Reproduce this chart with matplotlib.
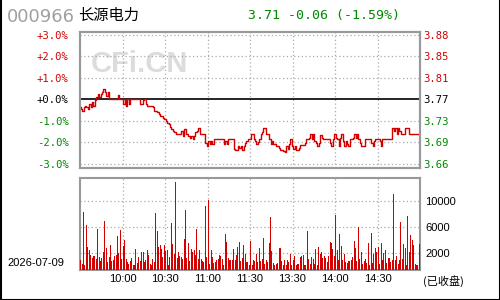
import matplotlib
matplotlib.use("Agg")
import matplotlib.pyplot as plt
from matplotlib.lines import Line2D

plt.rcParams['font.family'] = ['Liberation Sans', 'Noto Sans CJK SC', 'DejaVu Sans']

# ---------------- data ----------------
CODE = "000966"
NAME = "长源电力"
QUOTE = "3.71 -0.06 (-1.59%)"
DATE = "2026-07-09"
STATUS = "(已收盘)"
PREV_CLOSE = 3.77

PRICE = [
    3.756, 3.753, 3.750, 3.756, 3.759, 3.757, 3.753, 3.762, 3.756, 3.765,
    3.759, 3.768, 3.774, 3.779, 3.774, 3.779, 3.782, 3.788, 3.782, 3.776,
    3.782, 3.770, 3.770, 3.770, 3.770, 3.770, 3.770, 3.778, 3.770, 3.770,
    3.770, 3.762, 3.771, 3.759, 3.770, 3.762, 3.770, 3.770, 3.770, 3.770,
    3.770, 3.770, 3.770, 3.761, 3.761, 3.768, 3.770, 3.762, 3.759, 3.759,
    3.759, 3.759, 3.756, 3.750, 3.750, 3.747, 3.744, 3.741, 3.741, 3.738,
    3.735, 3.732, 3.729, 3.726, 3.722, 3.718, 3.715, 3.712, 3.710, 3.710,
    3.710, 3.710, 3.715, 3.706, 3.718, 3.710, 3.710, 3.706, 3.703, 3.706,
    3.700, 3.706, 3.712, 3.715, 3.719, 3.710, 3.710, 3.710, 3.710, 3.694,
    3.688, 3.697, 3.691, 3.697, 3.691, 3.700, 3.700, 3.700, 3.700, 3.700,
    3.700, 3.700, 3.691, 3.697, 3.691, 3.700, 3.700, 3.700, 3.700, 3.682,
    3.681, 3.681, 3.688, 3.685, 3.688, 3.681, 3.688, 3.694, 3.697, 3.700,
    3.700, 3.709, 3.709, 3.700, 3.697, 3.691, 3.696, 3.700, 3.709, 3.712,
    3.719, 3.719, 3.710, 3.709, 3.700, 3.691, 3.697, 3.691, 3.691, 3.688,
    3.688, 3.685, 3.681, 3.681, 3.679, 3.677, 3.688, 3.682, 3.691, 3.700,
    3.688, 3.682, 3.688, 3.681, 3.681, 3.685, 3.689, 3.689, 3.689, 3.694,
    3.700, 3.700, 3.703, 3.709, 3.700, 3.709, 3.697, 3.694, 3.688, 3.694,
    3.708, 3.703, 3.700, 3.700, 3.700, 3.700, 3.700, 3.694, 3.688, 3.700,
    3.709, 3.703, 3.700, 3.688, 3.703, 3.709, 3.697, 3.688, 3.697, 3.691,
    3.688, 3.700, 3.700, 3.703, 3.709, 3.703, 3.709, 3.700, 3.694, 3.688,
    3.688, 3.688, 3.700, 3.700, 3.700, 3.700, 3.694, 3.688, 3.697, 3.700,
    3.700, 3.700, 3.697, 3.688, 3.700, 3.700, 3.700, 3.700, 3.700, 3.700,
    3.700, 3.719, 3.715, 3.719, 3.710, 3.719, 3.715, 3.710, 3.710, 3.710,
    3.719, 3.719, 3.719, 3.710, 3.710, 3.710, 3.710, 3.710, 3.710, 3.710,
    3.710,
]

VOLUME = [
    900, 270, 8330, 120, 6240, 2840, 2370, 1690, 1160, 1430,
    1430, 1010, 5710, 1270, 640, 1110, 2050, 6920, 2680, 480,
    1270, 3150, 640, 900, 1430, 1630, 4560, 1950, 5500, 950,
    3050, 3940, 1010, 480, 220, 640, 1110, 120, 60, 2520,
    430, 1270, 640, 2160, 2160, 480, 800, 2370, 1580, 170,
    120, 950, 480, 8170, 5350, 2840, 3150, 2520, 1270, 3260,
    2210, 2370, 120, 1270, 6600, 3310, 1740, 13040, 1160, 2050,
    1430, 1270, 1010, 4090, 8640, 1110, 3460, 690, 2520, 2160,
    2370, 1580, 5710, 950, 2370, 950, 750, 480, 9270, 1270,
    10210, 170, 2370, 1270, 330, 480, 800, 950, 1630, 1430,
    950, 120, 4880, 3620, 1110, 800, 800, 800, 2520, 800,
    1580, 2890, 3620, 640, 1110, 3150, 1740, 480, 480, 120,
    3780, 60, 800, 640, 1740, 480, 2680, 640, 950, 4250,
    170, 800, 480, 3460, 7540, 2210, 330, 120, 170, 330,
    2680, 2680, 640, 120, 800, 120, 800, 480, 1740, 120,
    800, 1430, 120, 170, 170, 1270, 1430, 1580, 60, 120,
    5350, 950, 170, 1270, 950, 170, 2520, 120, 2840, 1740,
    2050, 1110, 1430, 1110, 480, 1430, 3620, 3460, 2520, 1430,
    7860, 2370, 800, 4880, 2990, 800, 1740, 480, 330, 640,
    640, 800, 1270, 3780, 2680, 640, 5970, 950, 2050, 170,
    640, 950, 330, 3460, 120, 5030, 330, 1740, 2680, 2050,
    2840, 170, 3460, 800, 1900, 2370, 330, 1110, 1110, 480,
    800, 11150, 800, 1430, 170, 800, 6760, 950, 3310, 2680,
    120, 7700, 2050, 4720, 3940, 3150, 170, 120, 120, 3310,
]

PCT_TICKS = [3, 2, 1, 0, -1, -2, -3]
PCT_LABELS = ["+3.0%", "+2.0%", "+1.0%", "+0.0%", "-1.0%", "-2.0%", "-3.0%"]
PRICE_LABELS = ["3.88", "3.85", "3.81", "3.77", "3.73", "3.69", "3.66"]
VOL_TICKS = [2000, 6000, 10000]
VOL_LABELS = ["2000", "6000", "10000"]
TIME_TICKS = [30, 60, 90, 120, 150, 180, 210]
TIME_LABELS = ["10:00", "10:30", "11:00", "11:30", "13:30", "14:00", "14:30"]

# ---------------- style ----------------
RED = "#d40000"
GREEN = "#008800"
FRAME = "#999999"
GRID = "#aaaaaa"
DOT = (0, (1, 2))
W, H = 500, 300
VOL_FLOOR = -720
VOL_TOP = 13660
PCT_LO, PCT_HI = -3.195, 3.13


def fx(x):
    return x / W


def fy(y):
    return 1 - y / H


fig = plt.figure(figsize=(5, 3), dpi=100)
fig.patch.set_facecolor("white")

ax = fig.add_axes([fx(80), fy(168), 340 / W, 136 / H])
axv = fig.add_axes([fx(80), fy(270), 340 / W, 92 / H])

lo = PREV_CLOSE * (1 + PCT_LO / 100)
hi = PREV_CLOSE * (1 + PCT_HI / 100)
tick_pos = [PREV_CLOSE * (1 + p / 100) for p in PCT_TICKS]
tick_cols = [RED if p > 0 else ("black" if p == 0 else GREEN) for p in PCT_TICKS]

# price panel
for p, pos in zip(PCT_TICKS, tick_pos):
    if p != 0:
        ax.axhline(pos, color=GRID, lw=0.9, ls=DOT, zorder=1)
for t in TIME_TICKS:
    ax.axvline(t, color=GRID, lw=0.9, ls=DOT, zorder=1)
ax.axhline(PREV_CLOSE, color="black", lw=1.2, zorder=2)
ax.plot(range(len(PRICE)), PRICE, color=RED, lw=1.0, drawstyle="steps-mid", zorder=3)
ax.set_xlim(0, 240)
ax.set_ylim(lo, hi)
ax.set_xticks([])
ax.set_yticks(tick_pos)
ax.set_yticklabels(PCT_LABELS, family="DejaVu Sans Mono", fontsize=7.6)
for lab, c in zip(ax.get_yticklabels(), tick_cols):
    lab.set_color(c)
ax.tick_params(axis="y", length=0, pad=8)

axr = ax.twinx()
axr.set_ylim(lo, hi)
axr.set_yticks(tick_pos)
axr.set_yticklabels(PRICE_LABELS, family="DejaVu Sans Mono", fontsize=7.6)
for lab, c in zip(axr.get_yticklabels(), tick_cols):
    lab.set_color(c)
axr.tick_params(axis="y", length=0, pad=2)

for a in (ax, axr, axv):
    for s in a.spines.values():
        s.set_color(FRAME)
        s.set_linewidth(1.5)

# watermark
ax.text(fx(139), fy(64), "CFi.CN", transform=fig.transFigure, ha="center", va="center",
        fontsize=21, fontweight="bold", color="#dcdcdc", family="Liberation Sans", zorder=0.5)

# volume panel
for v in VOL_TICKS:
    axv.axhline(v, color=GRID, lw=0.9, ls=DOT, zorder=1)
for t in TIME_TICKS:
    axv.axvline(t, color=GRID, lw=0.9, ls=DOT, zorder=1)
xs = [k + 0.5 for k in range(len(VOLUME))]
axv.bar(xs, [v - VOL_FLOOR for v in VOLUME], bottom=VOL_FLOOR, width=0.72,
        color=RED, linewidth=0, zorder=3)
axv.set_xlim(0, 240)
axv.set_ylim(VOL_FLOOR, VOL_TOP)
axv.yaxis.tick_right()
axv.set_yticks(VOL_TICKS)
axv.set_yticklabels(VOL_LABELS, fontsize=8)
axv.set_xticks(TIME_TICKS)
axv.set_xticklabels(TIME_LABELS, fontsize=8)
axv.tick_params(length=0, pad=3)
axv.tick_params(axis="y", pad=4)

# header texts
fig.text(fx(7), fy(17), CODE, ha="left", va="center", fontsize=13, color="#a0a0a0",
         family="DejaVu Sans")
fig.text(fx(78), fy(15), NAME, ha="left", va="center", fontsize=11, color="black",
         family=["Noto Sans CJK SC"])
fig.text(fx(248), fy(15), QUOTE, ha="left", va="center", fontsize=9.5, color=GREEN,
         family="DejaVu Sans Mono")
fig.text(fx(7), fy(263), DATE, ha="left", va="center", fontsize=8, color="black")
fig.text(fx(423), fy(281), STATUS, ha="left", va="center", fontsize=8, color="black",
         family=["Noto Sans CJK SC", "DejaVu Sans"])

# outer border (left, right, bottom)
for xsb, ysb in (([0.5 / W, 0.5 / W], [0, 1]), ([1 - 0.5 / W, 1 - 0.5 / W], [0, 1]),
                 ([0, 1], [0.5 / H, 0.5 / H])):
    fig.add_artist(Line2D(xsb, ysb, color="black", lw=1.5, transform=fig.transFigure))

fig.savefig("out.png", dpi=100)
